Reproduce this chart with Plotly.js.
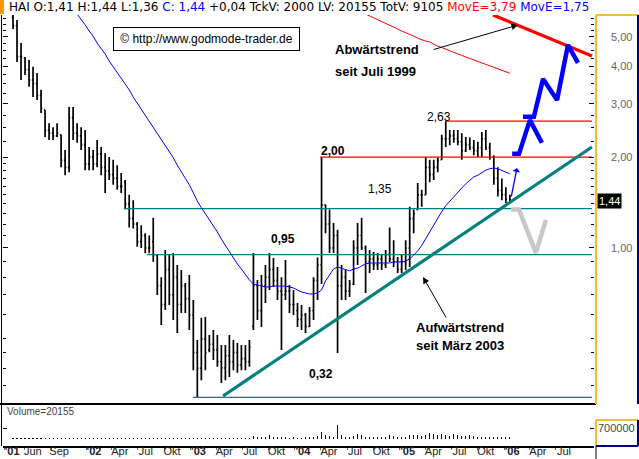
<!DOCTYPE html>
<html><head><meta charset="utf-8">
<script src="https://cdn.plot.ly/plotly-3.0.1.min.js"></script>
<style>html,body{margin:0;padding:0;background:#fff;overflow:hidden}#chart{width:639px;height:459px}</style>
</head><body><div id="chart"></div>
<script>
// ---- data (bi-weekly bars, HAI, Apr 2001 - Jan 2006) ----
const startDate = '2001-04-21';
const stepDays = 14;
const high = [5.91,5.69,4.77,4.29,4.19,3.98,3.80,3.34,2.86,2.59,
  2.51,2.59,2.37,2.11,2.93,2.93,2.59,2.51,2.46,2.16,
  2.11,2.28,2.16,2.06,2.00,1.96,1.88,1.77,1.68,1.50,
  1.44,1.22,1.19,1.12,1.10,1.26,0.948,0.80,0.985,0.948,
  0.963,0.878,0.846,0.766,0.814,0.673,0.496,0.587,0.591,0.515,
  0.535,0.515,0.477,0.477,0.515,0.496,0.485,0.477,0.477,0.496,
  0.963,0.784,0.814,0.878,0.963,0.927,0.865,0.80,0.913,0.754,
  0.726,0.658,0.648,0.609,0.638,0.80,0.93,2.00,1.39,1.34,
  1.21,1.15,0.878,0.846,0.784,1.06,1.21,1.26,1.02,0.985,
  0.97,0.963,0.948,0.985,1.17,1.06,0.934,0.948,1.06,1.37,
  1.34,1.64,1.56,2.00,1.96,1.96,1.99,2.37,2.63,2.46,
  2.46,2.46,2.40,2.33,2.32,2.28,2.25,2.42,2.46,2.23,
  2.03,1.85,1.70,1.59,1.50];
const low = [5.31,4.13,3.60,3.74,3.42,3.16,3.09,2.80,2.33,2.28,
  2.28,2.33,1.85,1.74,1.78,2.28,2.23,2.11,1.81,1.81,
  1.81,1.85,1.74,1.52,1.68,1.62,1.56,1.52,1.34,1.17,
  1.16,1.01,1.00,0.96,0.96,0.90,0.699,0.556,0.623,0.648,
  0.578,0.523,0.609,0.609,0.535,0.394,0.32,0.365,0.394,0.452,
  0.426,0.404,0.357,0.365,0.374,0.394,0.386,0.394,0.394,0.404,
  0.535,0.578,0.548,0.658,0.726,0.743,0.673,0.459,0.673,0.609,
  0.60,0.548,0.535,0.523,0.548,0.578,0.673,0.76,1.12,0.963,
  0.963,0.449,0.673,0.673,0.688,0.754,0.878,0.985,0.71,0.827,
  0.846,0.846,0.846,0.858,0.899,0.865,0.827,0.827,0.846,0.865,
  1.12,1.34,1.37,1.50,1.65,1.68,1.78,1.96,2.16,2.19,
  2.23,2.19,1.96,2.08,2.11,2.03,2.00,2.00,2.11,1.96,
  1.62,1.48,1.44,1.41,1.41];
const open = [5.80,5.45,4.30,4.25,3.90,3.60,3.50,3.20,2.86,2.45,
  2.40,2.35,2.37,1.95,1.85,2.70,2.40,2.35,2.20,1.90,
  2.00,1.90,2.05,1.85,1.80,1.75,1.70,1.60,1.65,1.40,
  1.25,1.20,1.05,1.10,1.00,1.05,0.948,0.75,0.65,0.85,
  0.70,0.80,0.65,0.75,0.68,0.60,0.45,0.40,0.50,0.46,
  0.48,0.46,0.42,0.40,0.44,0.42,0.45,0.41,0.43,0.42,
  0.55,0.75,0.62,0.75,0.80,0.85,0.78,0.72,0.70,0.72,
  0.65,0.62,0.58,0.60,0.55,0.62,0.78,0.88,1.39,1.20,
  1.00,1.10,0.75,0.80,0.72,0.76,1.00,1.10,1.00,0.90,
  0.92,0.88,0.92,0.88,0.95,0.92,0.90,0.85,0.90,1.00,
  1.25,1.34,1.50,1.50,1.85,1.75,1.85,1.96,2.30,2.30,
  2.35,2.30,2.25,2.10,2.20,2.15,2.10,2.15,2.30,2.15,
  2.00,1.70,1.55,1.50,1.41];
const close = [5.45,4.30,4.30,3.90,3.60,3.50,3.20,2.90,2.45,2.40,
  2.35,2.40,1.95,1.85,2.70,2.40,2.35,2.20,1.90,2.00,
  1.90,2.05,1.85,1.80,1.75,1.70,1.60,1.60,1.40,1.25,
  1.20,1.05,1.10,1.00,1.00,0.95,0.75,0.65,0.85,0.70,
  0.80,0.65,0.75,0.68,0.60,0.45,0.40,0.50,0.45,0.48,
  0.46,0.42,0.40,0.44,0.42,0.45,0.41,0.43,0.42,0.47,
  0.75,0.62,0.75,0.80,0.85,0.78,0.72,0.70,0.72,0.65,
  0.65,0.58,0.60,0.55,0.62,0.78,0.88,1.39,1.20,1.00,
  1.10,0.75,0.80,0.72,0.76,1.00,1.10,1.00,0.90,0.92,
  0.88,0.92,0.88,0.95,0.92,0.90,0.85,0.90,1.00,1.25,
  1.30,1.50,1.50,1.85,1.75,1.85,1.95,2.30,2.30,2.35,
  2.30,2.25,2.10,2.20,2.15,2.10,2.15,2.30,2.15,2.00,
  1.70,1.55,1.50,1.45,1.44];
const volume = [60000,50000,60000,50000,50000,60000,50000,50000,60000,50000,50000,60000,70000,60000,90000,
  80000,60000,50000,60000,50000,90000,80000,60000,50000,50000,60000,50000,50000,60000,50000,
  60000,50000,50000,60000,50000,60000,70000,60000,50000,60000,50000,60000,50000,60000,50000,
  70000,90000,60000,60000,50000,60000,50000,60000,70000,60000,60000,50000,60000,70000,80000,
  200000,120000,150000,110000,280000,150000,120000,100000,110000,90000,100000,80000,90000,110000,120000,
  150000,220000,470000,250000,200000,150000,900000,260000,150000,120000,200000,300000,250000,150000,120000,
  100000,110000,120000,130000,250000,200000,120000,110000,150000,260000,230000,270000,200000,250000,380000,
  300000,260000,320000,250000,220000,300000,260000,200000,180000,230000,160000,140000,150000,130000,120000,
  150000,140000,130000,120000,100000];
const blueMAStart = 16;   // MovE (short), bar index of first visible value
const blueMA = [5.95,5.72,5.48,5.23,5.03,4.77,4.59,4.39,4.16,3.98,
  3.80,3.63,3.49,3.34,3.16,3.02,2.86,2.74,2.61,2.51,
  2.40,2.30,2.19,2.09,1.99,1.88,1.78,1.70,1.62,1.52,
  1.43,1.36,1.30,1.24,1.19,1.13,1.07,1.02,0.97,0.927,
  0.885,0.852,0.814,0.784,0.76,0.754,0.748,0.743,0.743,0.748,
  0.748,0.748,0.748,0.743,0.737,0.726,0.715,0.71,0.704,0.704,
  0.71,0.726,0.778,0.814,0.852,0.865,0.858,0.846,0.84,0.852,
  0.858,0.872,0.885,0.892,0.892,0.892,0.892,0.892,0.892,0.899,
  0.899,0.899,0.906,0.92,0.948,0.977,1.02,1.08,1.13,1.19,
  1.26,1.32,1.38,1.43,1.47,1.53,1.58,1.63,1.68,1.72,
  1.74,1.78,1.81,1.83,1.84,1.83,1.81,1.78,1.76];
const redMAStart = 88;    // MovE (long)
const redMA = [5.95,5.87,5.78,5.69,5.61,5.54,5.48,5.39,5.31,5.23,5.17,5.11,5.03,4.95,4.88,4.84,4.81,4.73,4.66,4.61,
  4.56,4.49,4.44,4.39,4.34,4.29,4.24,4.19,4.14,4.09,4.05,4.00,3.96,3.91,3.86,3.82,3.79];

// support / resistance levels: [from, to, price]
const redLevels = [['2004-03-29','2006-11-04',2.00],['2005-06-12','2006-11-04',2.63]];
const tealLevels = [['2002-05-17','2006-11-04',1.35],['2002-08-02','2006-11-04',0.95],['2003-01-10','2006-11-04',0.32]];
const upTrendX = ['2003-04-25','2006-11-04'];   const upTrendY = [0.3236,2.16];
const downTrendX = ['2005-11-23','2006-11-04']; const downTrendY = [5.91,4.32];
// forecast paths
const fcBlue1X = ['2006-01-29','2006-02-22','2006-04-01','2006-05-13']; const fcBlue1Y = [2.05,2.05,2.65,2.23];
const fcBlue2X = ['2006-03-08','2006-04-15','2006-05-17','2006-07-05','2006-08-12','2006-09-16'];
const fcBlue2Y = [2.72,2.72,3.63,3.09,4.70,4.10];
const fcGrayX = ['2006-01-25','2006-02-22','2006-04-22','2006-05-27']; const fcGrayY = [1.34,1.34,0.963,1.24];

// x-axis labels
const tickDates = ['2001-03-21','2001-06-01','2001-09-01','2002-01-01','2002-04-01','2002-07-01','2002-10-01',
  '2003-01-01','2003-04-01','2003-07-01','2003-10-01','2004-01-01','2004-04-01','2004-07-01','2004-10-01',
  '2005-01-01','2005-04-01','2005-07-01','2005-10-01','2006-01-01','2006-04-01','2006-07-01'];
const tickLabels = ["<b>'01</b>",'Jun','Sep',"<b>'02</b>",'Apr','Jul','Okt',"<b>'03</b>",'Apr','Jul','Okt',
  "<b>'04</b>",'Apr','Jul','Okt',"<b>'05</b>",'Apr','Jul','Okt',"<b>'06</b>",'Apr','Jul'];
const priceTicks = [1,2,3,4,5];
const priceTickText = ['1,00','2,00','3,00','4,00','5,00'];

// ---- build ----
function addDays(s,n){const d=new Date(s+'T00:00:00Z');d.setUTCDate(d.getUTCDate()+n);return d.toISOString().slice(0,10);}
const dates = high.map((_,i)=>addDays(startDate,i*stepDays));
const FONT = 'Liberation Sans, Arial, sans-serif';
const TEAL = '#008080';

const traces = [];
redLevels.forEach(l=>traces.push({type:'scatter',mode:'lines',x:[l[0],l[1]],y:[l[2],l[2]],line:{color:'#ff0000',width:1.3},hoverinfo:'skip'}));
tealLevels.forEach(l=>traces.push({type:'scatter',mode:'lines',x:[l[0],l[1]],y:[l[2],l[2]],line:{color:TEAL,width:1.3},hoverinfo:'skip'}));
traces.push({type:'scatter',mode:'lines',x:upTrendX,y:upTrendY,line:{color:TEAL,width:3.2}});
traces.push({type:'scatter',mode:'lines',x:downTrendX,y:downTrendY,line:{color:'#ff0000',width:3.2}});
traces.push({type:'scatter',mode:'lines',x:dates.slice(redMAStart),y:redMA,line:{color:'#ff0000',width:1}});
traces.push({type:'scatter',mode:'lines',x:dates.slice(blueMAStart),y:blueMA,line:{color:'#0000ff',width:1}});
traces.push({type:'ohlc',x:dates,open:open,high:high,low:low,close:close,tickwidth:0.3,
  increasing:{line:{color:'#000',width:1.7}},decreasing:{line:{color:'#000',width:1.7}},hoverinfo:'skip'});
traces.push({type:'scatter',mode:'lines',x:fcGrayX,y:fcGrayY,line:{color:'#c8c8c8',width:4.5}});
traces.push({type:'scatter',mode:'lines',x:fcBlue1X,y:fcBlue1Y,line:{color:'#0000ff',width:4.5}});
traces.push({type:'scatter',mode:'lines',x:fcBlue2X,y:fcBlue2Y,line:{color:'#0000ff',width:4.5}});
traces.push({type:'bar',x:dates,y:volume,yaxis:'y2',marker:{color:'#000',line:{width:0}},width:86400000*4});

// pixel helpers for paper-positioned decorations (plot area: x 3..594, y 15..446)
const px=x=>(x-3)/591, py=y=>(446-y)/431;
const seg=(x0,y0,x1,y1,c,w)=>({type:'line',xref:'paper',yref:'paper',x0:px(x0),y0:py(y0),x1:px(x1),y1:py(y1),line:{color:c,width:w}});
const YEL='#f0c030', NAVY='#000080';
const shapes=[
  {type:'rect',xref:'paper',yref:'paper',x0:px(0),x1:px(4),y0:py(14),y1:py(0),fillcolor:'#ff9900',line:{width:0}},
  seg(1.5,15,1.5,446,'#000',1),
  seg(0,404,596,404,'#000',2),
  seg(596,15,596,404,YEL,2), seg(596,15,638,15,YEL,2), seg(638,15,638,404,NAVY,2),
  seg(596,420,596,446,YEL,2), seg(596,420,638,420,YEL,2), seg(638,420,638,446,NAVY,2), seg(596,446,638,446,NAVY,2),
  seg(596,446,596,459,'#000',1)
];
const A=(x,y,t,o)=>Object.assign({xref:'paper',yref:'paper',x:px(x),y:py(y),text:t,showarrow:false,font:{family:FONT,size:12,color:'#000'}},o||{});
const annotations=[
  A(7,7,'HAI O:1,41 H:1,44 L:1,36 <span style="color:#0000ff">C: 1,44</span> +0,04 TckV: 2000 LV: 20155 TotV: 9105 <span style="color:#ff0000">MovE=3,79</span> <span style="color:#0000ff">MovE=1,75</span>',
    {xanchor:'left',yanchor:'middle',font:{family:'DejaVu Sans, sans-serif',size:12,color:'#000'}}),
  A(206.5,39.5,'© http://www.godmode-trader.de',{xanchor:'center',yanchor:'middle',bordercolor:'#000',borderwidth:1,borderpad:4,bgcolor:'#fff',width:177,height:14,font:{family:FONT,size:12,color:'#000'}}),
  A(333,50,'<b>Abwärtstrend</b>',{xanchor:'left',yanchor:'middle',font:{family:FONT,size:13,color:'#000'}}),
  A(333,71,'<b>seit Juli 1999</b>',{xanchor:'left',yanchor:'middle',font:{family:FONT,size:13,color:'#000'}}),
  A(414,327,'<b>Aufwärtstrend</b>',{xanchor:'left',yanchor:'middle',font:{family:FONT,size:13,color:'#000'}}),
  A(414,345,'<b>seit März 2003</b>',{xanchor:'left',yanchor:'middle',font:{family:FONT,size:13,color:'#000'}}),
  A(333,142,'<b>2,00</b>'), A(380,189,'1,35'), A(283,239,'<b>0,95</b>'), A(453,108,'2,63'), A(321,383,'<b>0,32</b>'),
  A(518,25,'',{showarrow:true,ax:-86,ay:25,arrowhead:2,arrowsize:1.3,arrowwidth:1,arrowcolor:'#000'}),
  A(423,277,'',{showarrow:true,ax:24,ay:42,arrowhead:2,arrowsize:1.3,arrowwidth:1,arrowcolor:'#000'}),
  A(517,168,'',{showarrow:true,ax:-6,ay:30,arrowhead:1,arrowsize:1,arrowwidth:1.3,arrowcolor:'#0000ff'}),
  A(609,201,'1,44',{xanchor:'center',yanchor:'middle',bgcolor:'#000',borderpad:1,font:{family:FONT,size:11,color:'#fff'}}),
  A(5,411,'Volume=20155',{xanchor:'left',yanchor:'middle',font:{family:FONT,size:10,color:'#444'}})
];

const layout={
  width:639,height:459,margin:{l:3,r:45,t:15,b:13},paper_bgcolor:'#fff',plot_bgcolor:'#fff',showlegend:false,
  xaxis:{type:'date',range:['2001-03-17','2006-11-11'],anchor:'y2',tickmode:'array',tickvals:tickDates,ticktext:tickLabels,
    tickfont:{family:FONT,size:11,color:'#222'},ticks:'outside',ticklen:2,tickcolor:'#666',showgrid:false,zeroline:false,
    showline:true,linecolor:'#000',linewidth:2,rangeslider:{visible:false},ticklabelshift:8,ticklabelstandoff:-8},
  yaxis:{type:'log',domain:[py(404),1],range:[-0.5166,0.7715],side:'right',tickmode:'array',tickvals:priceTicks,ticktext:priceTickText,
    ticks:'inside',ticklen:5,tickcolor:'#000',tickfont:{family:FONT,size:11,color:'#666'},ticklabelstandoff:16,
    showgrid:false,zeroline:false,mirror:'ticks',
    minor:{tickmode:'array',tickvals:[0.35,0.4,0.45,0.5,0.6,0.7,0.8,0.9,1.1,1.2,1.3,1.4,1.5,1.6,1.7,1.8,1.9,2.25,2.5,2.75,3.25,3.5,3.75,4.25,4.5,4.75,5.25,5.5,5.75],ticks:'inside',ticklen:3,tickcolor:'#000'}},
  yaxis2:{domain:[0,py(406)],range:[-445000,2100000],side:'right',tickmode:'array',tickvals:[700000],ticktext:['700000'],
    ticks:'inside',ticklen:4,tickcolor:'#000',tickfont:{family:FONT,size:11,color:'#444'},ticklabelstandoff:3,
    showgrid:false,zeroline:false,mirror:'ticks'},
  bargap:0,shapes:shapes,annotations:annotations
};
Plotly.newPlot('chart',traces,layout,{staticPlot:true,displayModeBar:false});
</script></body></html>
